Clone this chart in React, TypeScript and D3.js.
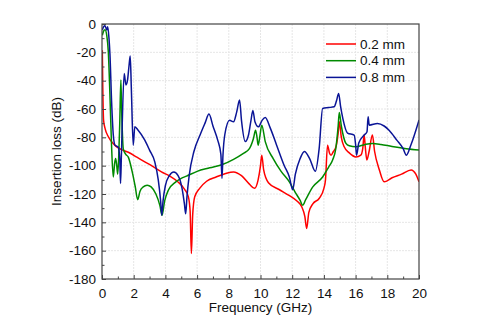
import React, { useEffect, useRef } from 'react';
import * as d3 from 'd3';

// Chart data (frequency in GHz, insertion loss in dB)
const seriesNames = ['0.2 mm', '0.4 mm', '0.8 mm'];
const seriesColors = ['#ff0000', '#008a00', '#0a1496'];

const freq02 = [0.02, 0.05, 0.1, 0.2, 0.4, 0.8, 1.2, 1.66, 2.2, 2.7, 3.2, 3.75, 4.3, 4.8, 5.2, 5.45, 5.56, 5.64, 5.72, 5.85, 6.16, 6.6, 7.2, 7.8, 8.3, 8.8, 9.3, 9.62, 9.85, 10.0, 10.08, 10.2, 10.5, 11.2, 11.8, 12.3, 12.6, 12.8, 12.91, 13.05, 13.3, 13.71, 14.0, 14.1, 14.23, 14.35, 14.45, 14.6, 14.76, 14.9, 14.97, 15.1, 15.28, 15.6, 16.02, 16.33, 16.45, 16.54, 16.62, 16.71, 16.85, 17.06, 17.2, 17.5, 17.8, 18.3, 18.9, 19.5, 19.8, 20];
const loss02 = [-18.5, -45, -68, -74, -79.6, -85.5, -88.5, -90.5, -94, -97.3, -100.5, -104.4, -107.5, -111.5, -116.5, -122, -132, -162, -135, -122, -116, -111, -108, -105.5, -104.4, -107, -113, -116, -110, -100, -92.6, -103, -112, -117, -121, -125, -129, -136, -144.4, -133, -127, -123, -116, -110, -85.5, -91, -92.6, -90, -86.7, -77, -69, -80, -86.7, -91, -93.8, -92.6, -88, -78.4, -88, -96, -90, -78.4, -90, -103, -111.4, -108.5, -106, -103, -106, -111.4];

const freq04 = [0.02, 0.1, 0.19, 0.3, 0.4, 0.5, 0.6, 0.71, 0.8, 0.86, 0.93, 0.99, 1.05, 1.12, 1.19, 1.25, 1.34, 1.5, 1.66, 1.9, 2.1, 2.25, 2.4, 2.6, 2.85, 3.1, 3.4, 3.65, 3.79, 3.95, 4.2, 4.6, 5.0, 5.33, 6.0, 6.8, 7.63, 8.3, 8.9, 9.3, 9.55, 9.69, 9.78, 9.85, 9.95, 10.08, 10.3, 10.8, 11.3, 11.82, 12.2, 12.5, 12.66, 12.85, 13.3, 13.92, 14.3, 14.55, 14.75, 14.9, 14.97, 15.1, 15.39, 15.6, 16.02, 16.6, 17.06, 17.6, 18.3, 19.2, 20];
const loss04 = [-8, -5, -4, -8, -20, -50, -85, -108, -98, -95, -100, -106, -95, -70, -39.6, -65, -88, -92, -94, -104, -115, -124, -118, -115, -113.8, -115, -120, -128, -135, -125, -117, -112, -109, -107.4, -104, -101.5, -99, -95.5, -91.5, -88, -81, -75, -80, -85.5, -80, -71.4, -83, -95, -104, -111.4, -119, -124.5, -128, -124, -115, -108, -101, -96, -88, -72, -62.4, -72, -84.3, -86, -86.7, -85, -84.3, -85, -86.5, -88, -89];

const freq08 = [0.02, 0.1, 0.19, 0.3, 0.36, 0.44, 0.5, 0.61, 0.71, 0.82, 1.03, 1.12, 1.17, 1.23, 1.4, 1.51, 1.61, 1.7, 1.78, 1.85, 1.97, 2.07, 2.28, 2.7, 3.0, 3.33, 3.55, 3.7, 3.77, 3.85, 4.0, 4.25, 4.53, 4.8, 5.05, 5.2, 5.28, 5.36, 5.5, 5.8, 6.2, 6.5, 6.75, 7.0, 7.3, 7.5, 7.57, 7.63, 7.75, 8.05, 8.3, 8.5, 8.68, 8.8, 9.04, 9.25, 9.4, 9.52, 9.65, 9.87, 10.1, 10.3, 10.6, 11.0, 11.5, 11.82, 12.03, 12.2, 12.5, 12.77, 13.1, 13.46, 13.7, 13.92, 14.3, 14.65, 14.8, 14.93, 15.05, 15.2, 15.49, 15.91, 16.0, 16.06, 16.2, 16.54, 16.72, 16.79, 16.86, 17.38, 17.8, 18.11, 18.6, 19.0, 19.2, 19.5, 20];
const loss08 = [-4.2, -2, -1.2, -4.2, -1.9, -10, -21, -56, -78, -85.5, -87, -95, -112.6, -90, -35, -43, -39.6, -30, -22.6, -45, -85.5, -72.6, -75, -82, -89, -97.3, -110, -125, -135, -125, -114, -107, -104.4, -107, -116, -127, -134, -122, -107, -90, -78, -70, -63.6, -72, -82, -92, -109, -93, -78, -68, -69, -62, -53.7, -68, -83, -78, -68, -61, -69, -72.6, -68, -66, -73, -85, -100, -108, -117, -106, -95, -90, -95, -104, -88, -59.6, -59, -58.4, -54, -49, -58, -67, -77, -78.4, -85, -92.6, -84, -78.4, -76, -65.5, -71.4, -70.2, -72, -75, -82, -88, -92.6, -85, -67.8];

const xTicks = [0, 2, 4, 6, 8, 10, 12, 14, 16, 18, 20];
const yTicks = [0, -20, -40, -60, -80, -100, -120, -140, -160, -180];

const seriesFreq = [freq02, freq04, freq08];
const seriesLoss = [loss02, loss04, loss08];

function App() {
  const svgRef = useRef<SVGSVGElement | null>(null);

  useEffect(() => {
    if (!svgRef.current) return;
    const svg = d3.select(svgRef.current);
    svg.selectAll('*').remove();

    const width = 490;
    const height = 334;
    const margin = { top: 24, right: 71, bottom: 55, left: 102 };
    const innerW = width - margin.left - margin.right;
    const innerH = height - margin.top - margin.bottom;
    const font = '"Liberation Sans", Arial, sans-serif';
    const axisColor = '#444';

    const x = d3.scaleLinear().domain([0, 20]).range([0, innerW]);
    const y = d3.scaleLinear().domain([-180, 0]).range([innerH, 0]);

    const g = svg.append('g').attr('transform', `translate(${margin.left},${margin.top})`);

    // Light grid
    const grid = g.append('g').attr('class', 'grid');
    xTicks.slice(1, -1).forEach(t => {
      grid.append('line')
        .attr('x1', x(t)).attr('x2', x(t))
        .attr('y1', 0).attr('y2', innerH)
        .attr('stroke', '#e6e6e6')
        .attr('stroke-dasharray', '2,1');
    });
    yTicks.slice(1, -1).forEach(t => {
      grid.append('line')
        .attr('x1', 0).attr('x2', innerW)
        .attr('y1', y(t)).attr('y2', y(t))
        .attr('stroke', '#e6e6e6')
        .attr('stroke-dasharray', '2,1');
    });

    // Curves
    const line = d3.line<[number, number]>()
      .x(d => x(d[0]))
      .y(d => y(d[1]))
      .curve(d3.curveMonotoneX);

    const clip = g.append('clipPath').attr('id', 'plot-clip');
    clip.append('rect').attr('width', innerW).attr('height', innerH);

    const curves = g.append('g').attr('clip-path', 'url(#plot-clip)');
    seriesNames.forEach((name, i) => {
      const pts: [number, number][] = seriesFreq[i].map((f, j) => [f, seriesLoss[i][j]]);
      curves.append('path')
        .datum(pts)
        .attr('d', line)
        .attr('fill', 'none')
        .attr('stroke', seriesColors[i])
        .attr('stroke-width', 1.5)
        .attr('stroke-linejoin', 'round');
    });

    // Axes (inward ticks)
    const xAxis = d3.axisBottom(x)
      .tickValues(d3.range(0, 21, 1))
      .tickSize(-4)
      .tickFormat(d => (Number(d) % 2 === 0 ? String(d) : ''));
    const xg = g.append('g').attr('transform', `translate(0,${innerH})`).call(xAxis);
    xg.selectAll('.tick line')
      .attr('y2', (d: any) => (d % 2 === 0 ? -4 : -2.5));

    const yAxis = d3.axisLeft(y)
      .tickValues(d3.range(-180, 1, 10))
      .tickSize(-4)
      .tickFormat(d => (Number(d) % 20 === 0 ? String(d) : ''));
    const yg = g.append('g').call(yAxis);
    yg.selectAll('.tick line')
      .attr('x2', (d: any) => (d % 20 === 0 ? 4 : 2.5));

    [xg, yg].forEach(ax => {
      ax.select('.domain').remove();
      ax.selectAll('.tick line').attr('stroke', axisColor).attr('stroke-width', 1);
      ax.selectAll('text')
        .attr('font-family', font)
        .attr('font-size', 13.5)
        .attr('fill', '#111');
    });
    xg.selectAll('text').attr('y', 9);
    yg.selectAll('text').attr('x', -6);

    // Frame
    g.append('rect')
      .attr('width', innerW).attr('height', innerH)
      .attr('fill', 'none')
      .attr('stroke', axisColor)
      .attr('stroke-width', 1.2);

    // Axis titles
    g.append('text')
      .attr('x', innerW / 2)
      .attr('y', innerH + 33)
      .attr('text-anchor', 'middle')
      .attr('font-family', font)
      .attr('font-size', 13.5)
      .attr('fill', '#111')
      .text('Frequency (GHz)');

    g.append('text')
      .attr('transform', `translate(-41,${innerH / 2}) rotate(-90)`)
      .attr('text-anchor', 'middle')
      .attr('font-family', font)
      .attr('font-size', 13.5)
      .attr('fill', '#111')
      .text('Insertion loss (dB)');

    // Legend
    const legend = g.append('g').attr('transform', `translate(${innerW - 93},20)`);
    seriesNames.forEach((name, i) => {
      const row = legend.append('g').attr('transform', `translate(0,${i * 16.7})`);
      row.append('line')
        .attr('x1', 0).attr('x2', 30)
        .attr('y1', 0).attr('y2', 0)
        .attr('stroke', seriesColors[i])
        .attr('stroke-width', 1.5);
      row.append('text')
        .attr('x', 34)
        .attr('y', 0)
        .attr('dy', '0.35em')
        .attr('font-family', font)
        .attr('font-size', 13.5)
        .attr('fill', '#111')
        .text(name);
    });
  }, []);

  return (
    <svg
      ref={svgRef}
      width={490}
      height={334}
      style={{ position: 'absolute', left: 0, top: 0, background: '#fff' }}
    />
  );
}

export default App;
